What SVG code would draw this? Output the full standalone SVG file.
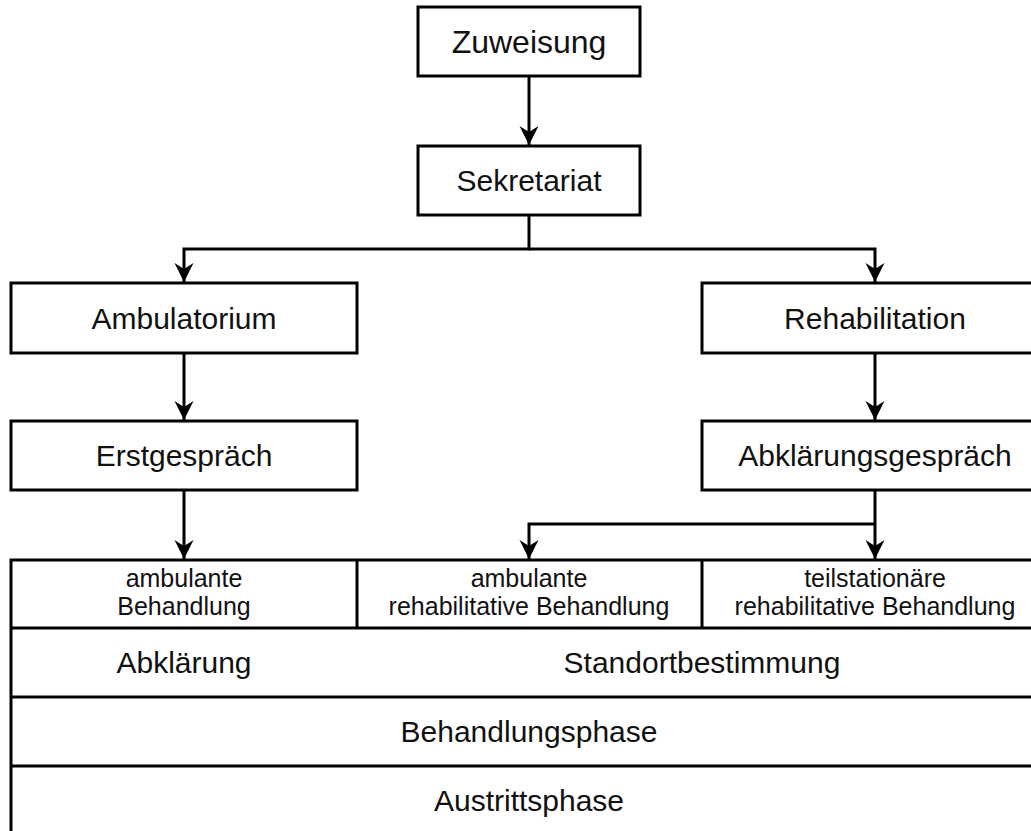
<svg xmlns="http://www.w3.org/2000/svg" width="1031" height="831" viewBox="0 0 1031 831">
<style>
.box{fill:#fff;stroke:#000;stroke-width:3}
.ln{fill:none;stroke:#000;stroke-width:3}
.t{font-family:"Liberation Sans",Arial,sans-serif;font-size:30px;fill:#111;text-anchor:middle}
.s{font-family:"Liberation Sans",Arial,sans-serif;font-size:25px;fill:#111;text-anchor:middle}
</style>
<defs>
<marker id="ah" markerUnits="userSpaceOnUse" markerWidth="22" markerHeight="22" refX="19" refY="9.5" orient="auto" viewBox="0 0 22 22">
<path d="M0,0 L19,9.5 L0,19 L6,9.5 Z" fill="#000"/>
</marker>
</defs>
<rect width="1031" height="831" fill="#fff"/>
<g id="connectors">
<path class="ln" d="M529,76 V145" marker-end="url(#ah)"/>
<path class="ln" d="M529,215 V249 H184 V282" marker-end="url(#ah)"/>
<path class="ln" d="M529,249 H875 V282" marker-end="url(#ah)"/>
<path class="ln" d="M184,353 V420" marker-end="url(#ah)"/>
<path class="ln" d="M875,353 V420" marker-end="url(#ah)"/>
<path class="ln" d="M184,490 V559" marker-end="url(#ah)"/>
<path class="ln" d="M875,490 V559" marker-end="url(#ah)"/>
<path class="ln" d="M875,524 H529 V559" marker-end="url(#ah)"/>
</g>
<g id="zuweisung"><rect class="box" x="418" y="7" width="222" height="69"/><text class="t" x="529" y="53" style="font-size:32px">Zuweisung</text></g>
<g id="sekretariat"><rect class="box" x="418" y="146" width="222" height="69"/><text class="t" x="529" y="191">Sekretariat</text></g>
<g id="ambulatorium"><rect class="box" x="11" y="283" width="346" height="70"/><text class="t" x="184" y="329">Ambulatorium</text></g>
<g id="rehabilitation"><rect class="box" x="702" y="283" width="346" height="70"/><text class="t" x="875" y="329">Rehabilitation</text></g>
<g id="erstgespraech"><rect class="box" x="11" y="421" width="346" height="69"/><text class="t" x="184" y="466">Erstgespräch</text></g>
<g id="abklaerungsgespraech"><rect class="box" x="702" y="421" width="346" height="69"/><text class="t" x="875" y="466">Abklärungsgespräch</text></g>
<g id="table">
<rect class="box" x="11" y="560" width="1037" height="290"/>
<path class="ln" d="M11,628 H1048 M11,697 H1048 M11,766 H1048 M357,560 V628 M702,560 V628"/>
</g>
<g id="amb-behandlung"><text class="s" x="184" y="587">ambulante</text><text class="s" x="184" y="615">Behandlung</text></g>
<g id="amb-reha"><text class="s" x="529" y="587">ambulante</text><text class="s" x="529" y="615">rehabilitative Behandlung</text></g>
<g id="teilstat-reha"><text class="s" x="875" y="587">teilstationäre</text><text class="s" x="875" y="615">rehabilitative Behandlung</text></g>
<g id="abklaerung"><text class="t" x="184" y="673">Abklärung</text></g>
<g id="standort"><text class="t" x="702" y="673">Standortbestimmung</text></g>
<g id="behandlungsphase"><text class="t" x="529" y="742">Behandlungsphase</text></g>
<g id="austrittsphase"><text class="t" x="529" y="811">Austrittsphase</text></g>
</svg>
